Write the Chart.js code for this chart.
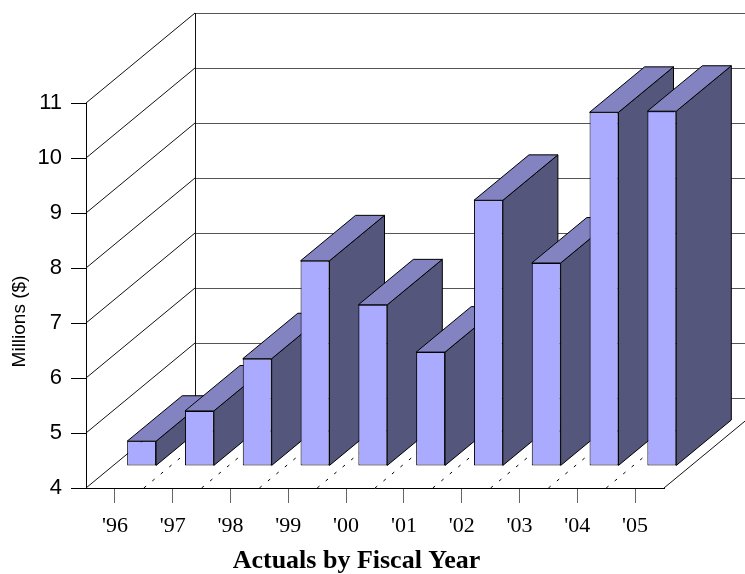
<!DOCTYPE html>
<html>
<head>
<meta charset="utf-8">
<script src="https://cdn.jsdelivr.net/npm/chart.js@4.4.1/dist/chart.umd.min.js"></script>
<style>
  html, body { margin: 0; padding: 0; background: #fff; }
  canvas { display: block; }
</style>
</head>
<body>
<canvas id="chart" width="745" height="574"></canvas>
<script>
// Fiscal years and actual spending (millions of dollars)
const years = ["'96", "'97", "'98", "'99", "'00", "'01", "'02", "'03", "'04", "'05"];
const actuals = [4.45, 5.0, 5.95, 7.73, 6.93, 6.07, 8.83, 7.69, 10.43, 10.45];
const axisMin = 4;
const axisMax = 11;

// Depth of the 3D room (floor / side wall) in pixels, and where the bars sit in it
const DEPTH_X = 109;
const DEPTH_Y = 90;
const BAR_FRONT = 0.245;
const BAR_BACK = 0.75;

const FACE_FRONT = '#aaaaff';
const FACE_TOP = '#8283c0';
const FACE_SIDE = '#55567c';

function seg(ctx, x1, y1, x2, y2) {
  ctx.beginPath();
  ctx.moveTo(x1, y1);
  ctx.lineTo(x2, y2);
  ctx.stroke();
}

function poly(ctx, pts, fill) {
  ctx.beginPath();
  ctx.moveTo(pts[0][0], pts[0][1]);
  for (let i = 1; i < pts.length; i++) ctx.lineTo(pts[i][0], pts[i][1]);
  ctx.closePath();
  ctx.fillStyle = fill;
  ctx.fill();
  ctx.stroke();
}

const room3d = {
  id: 'room3d',
  beforeDatasetsDraw(chart) {
    const { ctx, chartArea: a, scales: { x, y } } = chart;
    const W = chart.width;
    ctx.save();
    ctx.lineWidth = 1;

    // back wall grid lines
    ctx.strokeStyle = '#555';
    for (let v = axisMin; v <= axisMax; v++) {
      const py = Math.round(y.getPixelForValue(v) - DEPTH_Y) + 0.5;
      seg(ctx, a.left + DEPTH_X, py, W, py);
    }
    // side wall grid lines
    ctx.strokeStyle = '#111';
    for (let v = axisMin; v <= axisMax; v++) {
      const py = y.getPixelForValue(v);
      seg(ctx, a.left, py, a.left + DEPTH_X, py - DEPTH_Y);
    }
    // back wall left edge
    const bx = Math.round(a.left + DEPTH_X) + 0.5;
    seg(ctx, bx, a.top - DEPTH_Y, bx, a.bottom - DEPTH_Y);
    // floor right edge
    seg(ctx, a.right, a.bottom, a.right + DEPTH_X, a.bottom - DEPTH_Y);

    // dashed floor dividers between categories
    ctx.setLineDash([3, 8]);
    ctx.strokeStyle = '#000';
    for (let i = 1; i < years.length; i++) {
      const px = (x.getPixelForValue(i - 1) + x.getPixelForValue(i)) / 2;
      seg(ctx, px, a.bottom, px + DEPTH_X, a.bottom - DEPTH_Y);
    }
    ctx.setLineDash([]);

    // top and side faces of each bar
    const ox = DEPTH_X * BAR_FRONT, oy = -DEPTH_Y * BAR_FRONT;
    const dx = DEPTH_X * (BAR_BACK - BAR_FRONT), dy = DEPTH_Y * (BAR_BACK - BAR_FRONT);
    ctx.strokeStyle = '#000';
    ctx.lineJoin = 'miter';
    chart.getDatasetMeta(0).data.forEach(bar => {
      const p = bar.getProps(['x', 'y', 'base', 'width'], true);
      const l = p.x - p.width / 2 + ox, r = p.x + p.width / 2 + ox;
      const t = p.y + oy, b = p.base + oy;
      poly(ctx, [[r, t], [r + dx, t - dy], [r + dx, b - dy], [r, b]], FACE_SIDE);
      poly(ctx, [[l, t], [r, t], [r + dx, t - dy], [l + dx, t - dy]], FACE_TOP);
    });
    ctx.restore();

    // front faces are drawn by Chart.js, pushed back into the room
    ctx.save();
    ctx.translate(ox, oy);
  },
  afterDatasetsDraw(chart) {
    chart.ctx.restore();
  },
  afterDraw(chart) {
    const ctx = chart.ctx;
    ctx.save();
    ctx.fillStyle = '#000';
    ctx.font = 'bold 26px "Liberation Serif", "Times New Roman", serif';
    ctx.textAlign = 'center';
    ctx.textBaseline = 'alphabetic';
    ctx.fillText('Actuals by Fiscal Year', 356.5, 568);

    ctx.translate(25, 321.5);
    ctx.rotate(-Math.PI / 2);
    ctx.font = '19px "Liberation Sans", Arial, sans-serif';
    ctx.fillText('Millions ($)', 0, 0);
    ctx.restore();
  }
};

new Chart(document.getElementById('chart'), {
  type: 'bar',
  data: {
    labels: years,
    datasets: [{
      data: actuals,
      base: axisMin,
      backgroundColor: FACE_FRONT,
      borderColor: '#000',
      borderWidth: 1,
      borderSkipped: false,
      barPercentage: 0.5,
      categoryPercentage: 1,
      clip: false
    }]
  },
  options: {
    responsive: false,
    animation: false,
    events: [],
    layout: { padding: { top: 103, right: 81, bottom: 0, left: 0 } },
    plugins: { legend: { display: false }, tooltip: { enabled: false } },
    scales: {
      x: {
        offset: true,
        grid: { offset: false, drawOnChartArea: false, tickLength: 15, color: '#666' },
        border: { color: '#000' },
        ticks: {
          color: '#000',
          padding: 10,
          autoSkip: false,
          maxRotation: 0,
          font: { family: '"Liberation Serif", "Times New Roman", serif', size: 22 }
        },
        afterFit(s) { s.height = 86; }
      },
      y: {
        min: axisMin,
        max: axisMax,
        grid: { drawOnChartArea: false, tickLength: 15, color: '#000' },
        border: { color: '#000' },
        ticks: {
          stepSize: 1,
          color: '#000',
          padding: 9,
          font: { family: '"Liberation Sans", Arial, sans-serif', size: 22 }
        },
        afterFit(s) { s.width = 86; }
      }
    }
  },
  plugins: [room3d]
});
</script>
</body>
</html>
